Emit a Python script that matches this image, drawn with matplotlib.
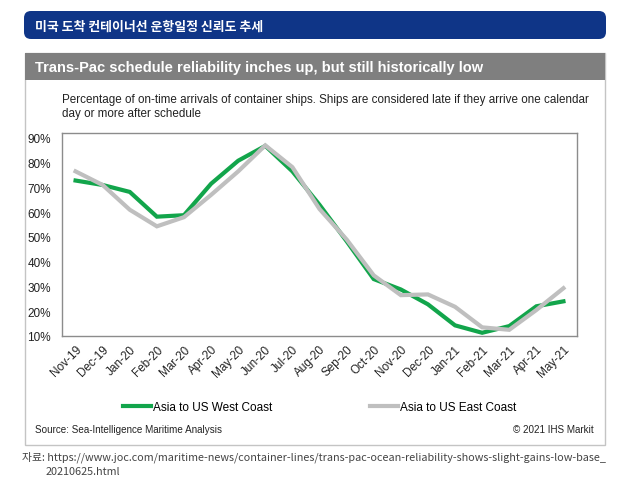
import matplotlib.pyplot as plt
from matplotlib.patches import FancyBboxPatch, Rectangle

months = ['Nov-19', 'Dec-19', 'Jan-20', 'Feb-20', 'Mar-20', 'Apr-20', 'May-20',
          'Jun-20', 'Jul-20', 'Aug-20', 'Sep-20', 'Oct-20', 'Nov-20', 'Dec-20',
          'Jan-21', 'Feb-21', 'Mar-21', 'Apr-21', 'May-21']
west_coast = [72.8, 71.0, 68.2, 58.2, 58.8, 71.5, 80.8, 86.8, 76.5, 63.0,
              48.3, 33.0, 28.8, 22.8, 14.3, 11.3, 14.0, 22.0, 24.0]
east_coast = [76.5, 71.0, 61.0, 54.3, 58.0, 67.0, 76.5, 87.0, 78.2, 61.3,
              49.0, 34.5, 26.5, 26.8, 21.8, 13.5, 12.5, 20.5, 29.3]
y_ticks = [10, 20, 30, 40, 50, 60, 70, 80, 90]

W, H = 635, 502
fig = plt.figure(figsize=(W / 100, H / 100), dpi=100)

# background layer in pixel coordinates
bg = fig.add_axes([0, 0, 1, 1])
bg.set_xlim(0, W)
bg.set_ylim(H, 0)
bg.axis('off')

bg.add_patch(FancyBboxPatch((24, 12), 582, 28, boxstyle='round,pad=0,rounding_size=7',
                            facecolor='#0f3587', edgecolor='none'))
bg.text(35, 26.5, '미국 도착 컨테이너선 운항일정 신뢰도 추세', color='white', fontsize=9.3,
        family=['Noto Sans CJK KR', 'DejaVu Sans'], fontweight='bold',
        va='center', ha='left')

bg.add_patch(Rectangle((25, 54), 580, 392, facecolor='white', edgecolor='#c4c4c4', lw=1))
bg.add_patch(Rectangle((25, 54), 580, 27, facecolor='#7f7f7f', edgecolor='none'))
bg.text(35, 68, 'Trans-Pac schedule reliability inches up, but still historically low',
        color='white', fontsize=10.5, fontweight='bold', family='Liberation Sans',
        va='center', ha='left')

bg.text(62, 100.5, 'Percentage of on-time arrivals of container ships. Ships are considered late if they arrive one calendar',
        color='#222222', fontsize=8.4, family='Liberation Sans', va='center', ha='left')
bg.text(62, 114, 'day or more after schedule',
        color='#222222', fontsize=8.4, family='Liberation Sans', va='center', ha='left')

bg.text(35, 430, 'Source: Sea-Intelligence Maritime Analysis', color='#222222', fontsize=7.1,
        family='Liberation Sans', va='center', ha='left')
bg.text(594, 430, '© 2021 IHS Markit', color='#222222', fontsize=7.1,
        family='Liberation Sans', va='center', ha='right')

note_font = ['Noto Sans CJK KR', 'DejaVu Sans']
bg.text(22, 457, '자료: https://www.joc.com/maritime-news/container-lines/trans-pac-ocean-reliability-shows-slight-gains-low-base_',
        color='#444444', fontsize=7.8, family=note_font, va='center', ha='left')
bg.text(46, 472.5, '20210625.html', color='#444444', fontsize=7.8, family=note_font,
        va='center', ha='left')

# chart
ax = fig.add_axes([62 / W, 1 - 337 / H, 515 / W, 203 / H])
x = list(range(len(months)))
l1, = ax.plot(x, west_coast, color='#12a54b', lw=3, solid_joinstyle='miter')
l2, = ax.plot(x, east_coast, color='#bfbfbf', lw=3, solid_joinstyle='miter')
ax.set_xlim(-0.5, len(months) - 0.5)
ax.set_ylim(10, 92)
ax.set_yticks(y_ticks)
ax.set_yticklabels([f'{v}%' for v in y_ticks], fontsize=8.5, family='Liberation Sans')
ax.set_xticks(x)
ax.set_xticklabels(months, rotation=45, ha='right', rotation_mode='anchor',
                   fontsize=8.5, family='Liberation Sans')
ax.tick_params(length=0, colors='#222222')
ax.tick_params(axis='y', pad=8)
ax.tick_params(axis='x', pad=5)
for s in ax.spines.values():
    s.set_color('#8c8c8c')
    s.set_linewidth(1)

fig.legend([l1, l2], ['Asia to US West Coast', 'Asia to US East Coast'],
           loc='center left', bbox_to_anchor=(112 / W, 1 - 408 / H), ncol=2,
           frameon=False, handlelength=2.4, handletextpad=0.15, columnspacing=8.3,
           prop={'family': 'Liberation Sans', 'size': 8.5})

fig.savefig('out.png', dpi=100)
